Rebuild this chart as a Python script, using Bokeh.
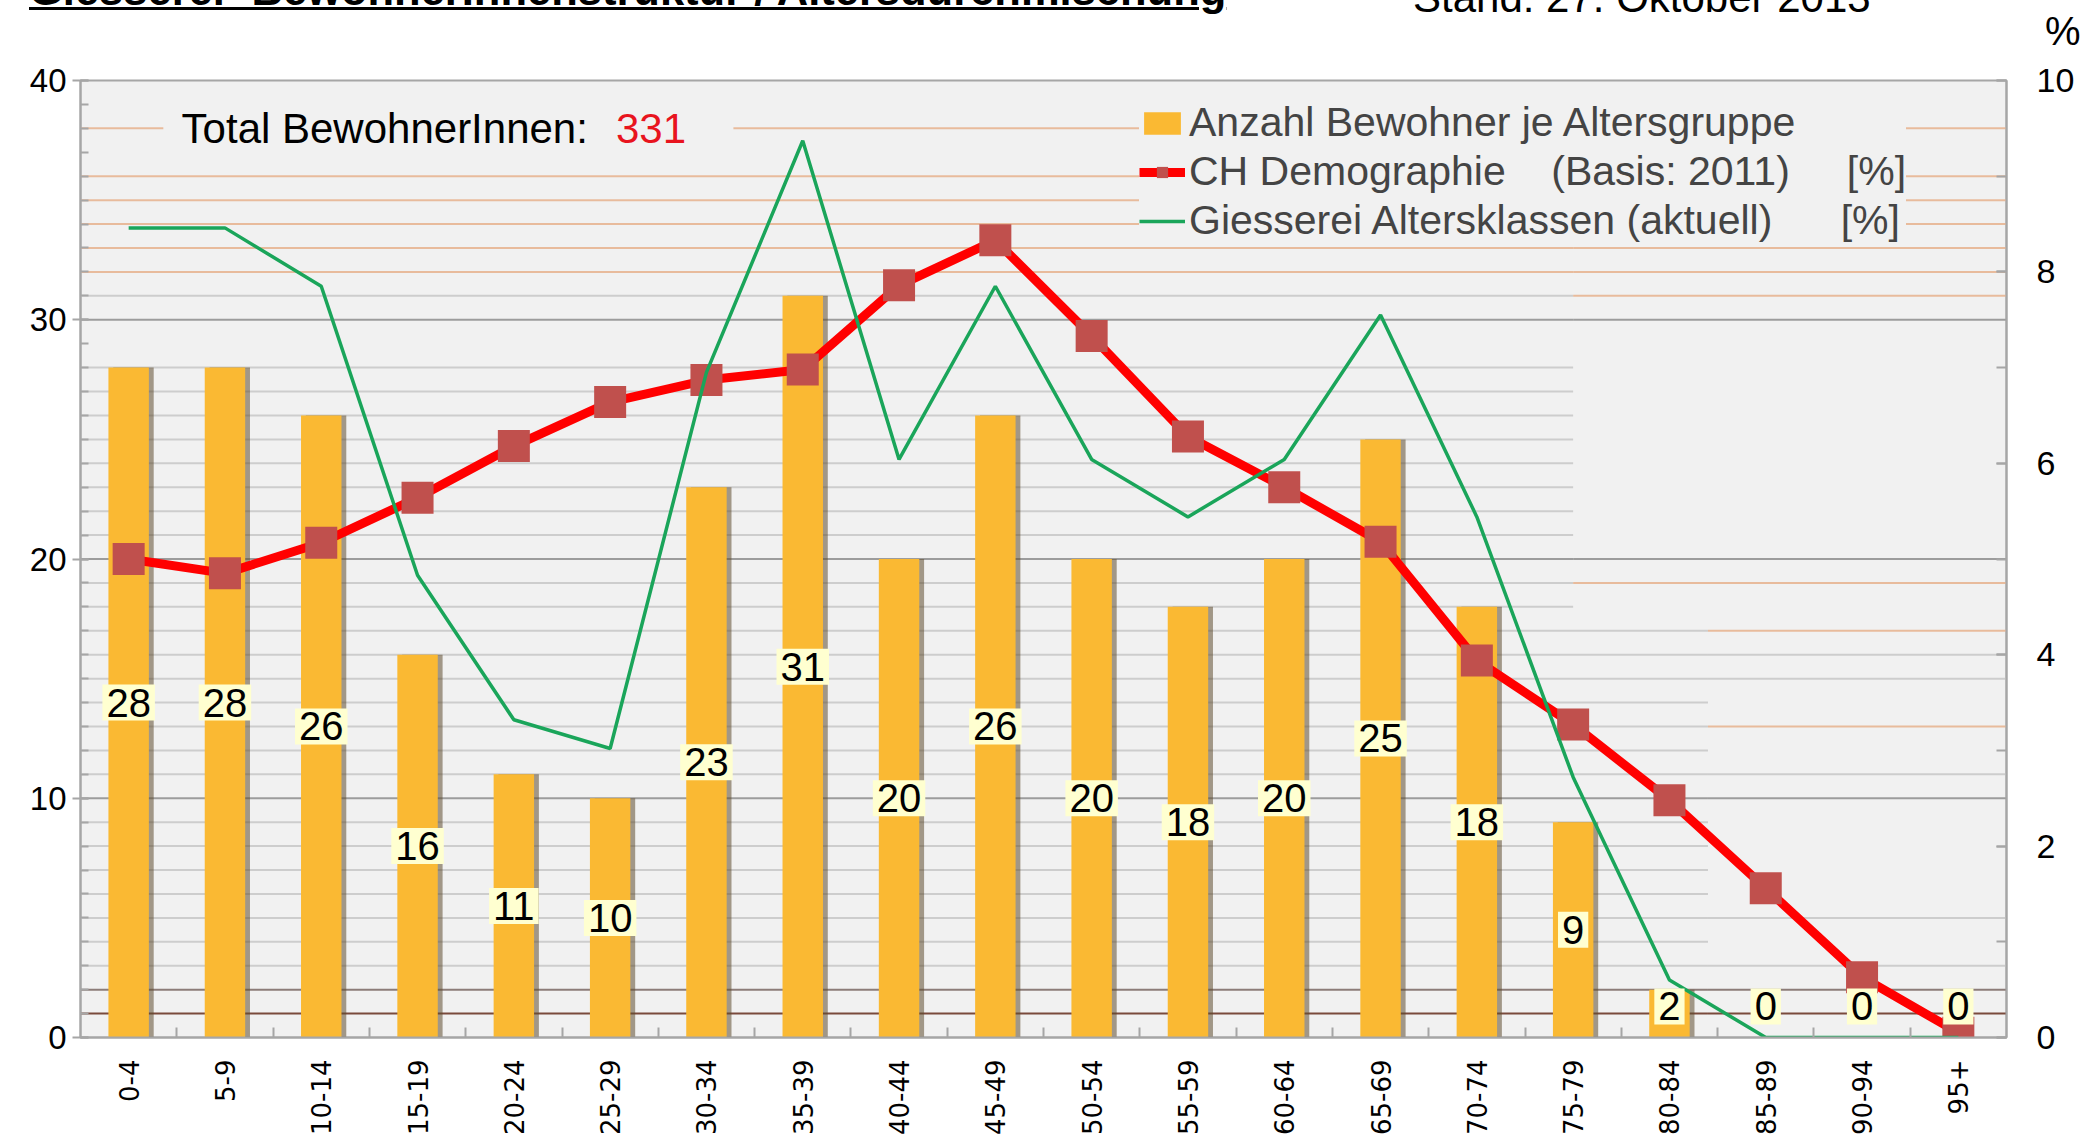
import math
from bokeh.plotting import figure
from bokeh.layouts import column
from bokeh.models import (Range1d, LinearAxis, FixedTicker, SingleIntervalTicker, Label,
                          Legend, LegendItem, ColumnDataSource, Div)
from bokeh.core.properties import value
from bokeh.transform import dodge
from bokeh.embed import file_html
from bokeh.resources import INLINE

# ---------------- data ----------------
age_groups = ["0-4", "5-9", "10-14", "15-19", "20-24", "25-29", "30-34", "35-39", "40-44", "45-49",
              "50-54", "55-59", "60-64", "65-69", "70-74", "75-79", "80-84", "85-89", "90-94", "95+"]
residents = [28, 28, 26, 16, 11, 10, 23, 31, 20, 26, 20, 18, 20, 25, 18, 9, 2, 0, 0, 0]
ch_demography_pct = [5.0, 4.85, 5.17, 5.64, 6.18, 6.64, 6.87, 6.98, 7.86, 8.33,
                     7.33, 6.28, 5.75, 5.18, 3.94, 3.27, 2.48, 1.56, 0.63, 0.05]
giesserei_pct = [8.46, 8.46, 7.85, 4.83, 3.32, 3.02, 6.95, 9.37, 6.04, 7.85,
                 6.04, 5.44, 6.04, 7.55, 5.44, 2.72, 0.60, 0.0, 0.0, 0.0]
total_residents = 331
title_text = "Giesserei- BewohnerInnenstruktur / Altersdurchmischung"
stand_text = "Stand: 27. Oktober 2013"

# ---------------- style ----------------
FONT = "Liberation Sans"
PLOT_BG = "#F1F1F1"
AXIS_GREY = "#A6A6A6"
N = len(age_groups)
X_LO, X_HI = -0.5, N - 0.5
Y_MAX = 40
PCT_MAX = 10
W = 2090
TOP_H = 60
MAIN_H = 1080

# ---------------- top strip: (cut) page title, date and the % unit ----------------
span = "position:absolute;white-space:nowrap;line-height:1;color:black;"
top_html = (
    f'<div style="position:relative;width:{W}px;height:{TOP_H}px;overflow:hidden;'
    f'background:white;font-family:\'{FONT}\';">'
    f'<span style="{span}left:29px;top:-31px;font-size:43.5px;font-weight:bold;'
    f'text-decoration:underline;text-decoration-thickness:3px;">{title_text}</span>'
    f'<span style="{span}left:1413px;top:-23px;font-size:42px;">{stand_text}</span>'
    f'<span style="{span}left:2045px;top:11px;font-size:40px;">%</span>'
    f'</div>'
)
top = Div(text=top_html, width=W, height=TOP_H, margin=0)

# ---------------- main chart ----------------
xs = list(range(N))
src = ColumnDataSource(dict(
    x=xs,
    residents=residents,
    ch=ch_demography_pct,
    gi=giesserei_pct,
    label_y=[max(v / 2, 1.3) for v in residents],
    label_text=[str(v) for v in residents],
))

p = figure(width=W, height=MAIN_H, x_range=Range1d(X_LO, X_HI), y_range=Range1d(0, Y_MAX),
           output_backend="svg", toolbar_location=None,
           min_border_left=80, min_border_right=84, min_border_top=20, min_border_bottom=103,
           background_fill_color=PLOT_BG, border_fill_color="white",
           outline_line_color=AXIS_GREY, outline_line_width=2, margin=0)
p.xgrid.visible = False
p.ygrid.visible = False
p.extra_y_ranges = {"pct": Range1d(0, PCT_MAX)}

# horizontal grid lines (scanned excel look)
def grid_color(level, right_part):
    if level in (10, 20, 30):
        return "#9C9C9C"
    if level == 1:
        return "#7A4A3C"
    if level == 2:
        return "#8C7C78"
    if level >= 32:
        return "#E8BB9C"
    if right_part and level in (31, 19, 17, 13):
        return "#E8BB9C"
    return "#CDCDCD"

left_levels = [l for l in range(1, Y_MAX) if l not in (29, 37, 39)]
right_levels = [1, 2, 3, 5, 10, 11, 13, 15, 16, 17, 19, 20, 30, 31, 32, 33, 34, 35, 36, 38]
gx0, gx1, gy, gc = [], [], [], []
for l in left_levels:
    split = 15.0 if l >= 18 else 16.4
    gx0.append(X_LO); gx1.append(split); gy.append(l); gc.append(grid_color(l, False))
for l in right_levels:
    split = 15.0 if l >= 18 else 16.4
    gx0.append(split); gx1.append(X_HI); gy.append(l); gc.append(grid_color(l, True))
p.segment(x0=gx0, y0=gy, x1=gx1, y1=gy, line_color=gc, line_width=2)

# mask behind the "Total" text
p.quad(left=[0.36], right=[6.28], bottom=[37.3], top=[38.7], fill_color=PLOT_BG, line_color=None)

# bars (with a soft shadow on the right)
p.vbar(x=dodge("x", 0.05, range=p.x_range), top="residents", width=0.42, source=src,
       fill_color="#5E4C30", fill_alpha=0.55, line_color=None)
bars = p.vbar(x="x", top="residents", width=0.42, source=src,
              fill_color="#FAB933", line_color=None)

# lines
red_line = p.line(x="x", y="ch", source=src, y_range_name="pct", line_color="#FF0000", line_width=9)
red_pts = p.scatter(x="x", y="ch", source=src, y_range_name="pct", marker="square", size=32,
                    fill_color="#C0504D", line_color=None)
green_line = p.line(x="x", y="gi", source=src, y_range_name="pct", line_color="#1AA55A", line_width=3.5)

# value labels
p.text(x="x", y="label_y", text="label_text", source=src, text_align="center", text_baseline="middle",
       text_font=value(FONT), text_font_size="40px", text_color="black",
       background_fill_color="#FFFFD0", padding=4)

# axes
xa = p.xaxis[0]
xa.ticker = FixedTicker(ticks=xs, minor_ticks=[i + 0.5 for i in range(N - 1)])
xa.major_label_overrides = {i: g for i, g in enumerate(age_groups)}
xa.major_label_orientation = math.pi / 2
xa.major_label_text_font = "DejaVu Sans"
xa.major_label_text_font_size = "26px"
xa.major_label_text_color = "black"
xa.major_label_standoff = 22
xa.major_tick_in = 0
xa.major_tick_out = 0
xa.minor_tick_in = 10
xa.minor_tick_out = 0
xa.minor_tick_line_color = AXIS_GREY
xa.minor_tick_line_width = 2
xa.axis_line_color = AXIS_GREY
xa.axis_line_width = 2

ya = p.yaxis[0]
ya.ticker = SingleIntervalTicker(interval=10, num_minor_ticks=10)
ya.major_label_text_font = FONT
ya.major_label_text_font_size = "33px"
ya.major_label_text_color = "black"
ya.major_label_standoff = 6
ya.major_tick_in = 8
ya.major_tick_out = 8
ya.minor_tick_in = 8
ya.minor_tick_out = 0
ya.major_tick_line_color = AXIS_GREY
ya.minor_tick_line_color = AXIS_GREY
ya.major_tick_line_width = 2
ya.minor_tick_line_width = 2
ya.axis_line_color = AXIS_GREY
ya.axis_line_width = 2

ra = LinearAxis(y_range_name="pct", ticker=SingleIntervalTicker(interval=2, num_minor_ticks=2))
ra.major_label_text_font = FONT
ra.major_label_text_font_size = "34px"
ra.major_label_text_color = "black"
ra.major_label_standoff = 30
ra.major_tick_in = 10
ra.major_tick_out = 0
ra.minor_tick_in = 10
ra.minor_tick_out = 0
ra.major_tick_line_color = AXIS_GREY
ra.minor_tick_line_color = AXIS_GREY
ra.major_tick_line_width = 2
ra.minor_tick_line_width = 2
ra.axis_line_color = AXIS_GREY
ra.axis_line_width = 2
p.add_layout(ra, "right")

# total text
p.add_layout(Label(x=0.55, y=38, text="Total BewohnerInnen:", text_font=FONT, text_font_size="42px",
                   text_color="black", text_baseline="middle"))
p.add_layout(Label(x=5.06, y=38, text=str(total_residents), text_font=FONT, text_font_size="42px",
                   text_color="#E8141E", text_baseline="middle"))

# legend
nb = "\u00a0"
legend = Legend(items=[
    LegendItem(label="Anzahl Bewohner je Altersgruppe", renderers=[bars]),
    LegendItem(label="CH Demographie" + nb * 4 + "(Basis: 2011)" + nb * 5 + "[%]", renderers=[red_line, red_pts]),
    LegendItem(label="Giesserei Altersklassen (aktuell)" + nb * 6 + "[%]", renderers=[green_line]),
], location=(1059, 793), background_fill_color=PLOT_BG, background_fill_alpha=1.0,
    border_line_color=None, label_text_font=FONT, label_text_font_size="41px",
    glyph_width=46, glyph_height=28, label_standoff=4, spacing=2, padding=10, label_height=40)
p.add_layout(legend)

open("out.html", "w").write(file_html(column(top, p, spacing=0), INLINE))
